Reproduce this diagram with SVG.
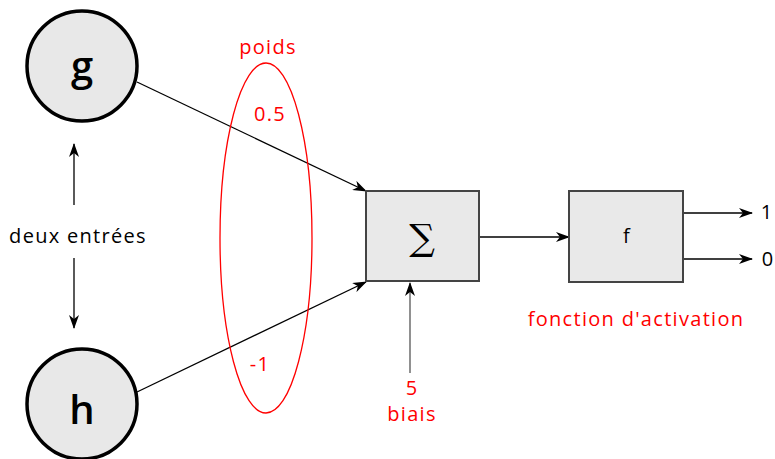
<svg xmlns="http://www.w3.org/2000/svg" width="775" height="459" viewBox="0 0 775 459">
<style>
text{font-family:"Comic Sans MS","Open Sans","DejaVu Sans",sans-serif;text-anchor:middle;dominant-baseline:central}
.red{fill:#ff0000;font-size:20px;letter-spacing:1.3px}
.blk{fill:#000;font-size:20px;letter-spacing:1.3px}
.node{fill:#e8e8e8;stroke:#000;stroke-width:3.5}
.box{fill:#e9e9e9;stroke:#444;stroke-width:2}
.con{stroke:#000;stroke-width:1.3;fill:none;marker-end:url(#ah)}
</style>
<defs>
<marker id="ah" viewBox="0 0 14 10" refX="13" refY="5" markerWidth="14" markerHeight="10" markerUnits="userSpaceOnUse" orient="auto">
<path d="M0,0 L14,5 L0,10 L4,5 Z" fill="#000"/>
</marker>
</defs>
<rect width="775" height="459" fill="#fff"/>
<g id="connectors">
<line class="con" x1="137" y1="82" x2="366" y2="191"/>
<line class="con" x1="137" y1="392" x2="366" y2="282"/>
<line class="con" x1="479" y1="237" x2="569" y2="237"/>
<line class="con" x1="683" y1="213" x2="752" y2="213"/>
<line class="con" x1="683" y1="259" x2="752" y2="259"/>
<line class="con" x1="410" y1="373" x2="410" y2="283" style="stroke:#555"/>
<line class="con" x1="74" y1="205" x2="74" y2="144"/>
<line class="con" x1="74" y1="258" x2="74" y2="328"/>
</g>
<g id="weights">
<ellipse cx="266" cy="238" rx="46" ry="175" fill="none" stroke="#ff0000" stroke-width="1.3"/>
<text class="red" x="268" y="46">poids</text>
<text class="red" x="270" y="113">0.5</text>
<text class="red" x="260" y="363">-1</text>
</g>
<g id="g">
<circle class="node" cx="82" cy="66" r="55"/>
<text x="82" y="64" style="font-size:40px;font-weight:600;fill:#000">g</text>
</g>
<g id="h">
<circle class="node" cx="82" cy="404" r="55"/>
<text x="82" y="408" style="font-size:40px;font-weight:600;fill:#000">h</text>
</g>
<g id="sum">
<rect class="box" x="366" y="191" width="113" height="90"/>
<text x="422" y="237" style="font-family:'DejaVu Serif',serif;font-size:36px;fill:#000">∑</text>
</g>
<g id="f">
<rect class="box" x="569" y="191" width="114" height="91"/>
<text class="blk" x="627" y="235">f</text>
<text class="red" x="636" y="318">fonction d'activation</text>
</g>
<g id="outputs">
<text class="blk" x="767" y="211">1</text>
<text class="blk" x="768" y="258">0</text>
</g>
<g id="bias">
<text class="red" x="412" y="387">5</text>
<text class="red" x="412" y="413">biais</text>
</g>
<g id="inputs-label">
<text class="blk" x="78" y="235">deux entrées</text>
</g>
</svg>
